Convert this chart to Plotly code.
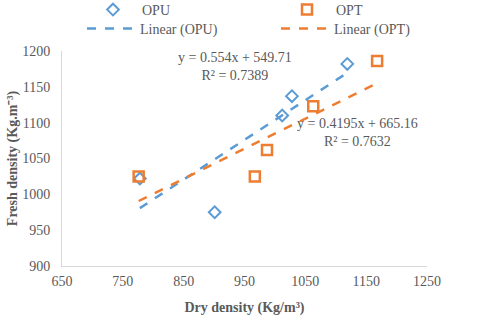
import plotly.graph_objects as go

# OPU series
opu_dry = [778, 901, 1012, 1028, 1119]
opu_fresh = [1022, 975, 1110, 1137, 1182]
# OPT series
opt_dry = [776, 967, 987, 1063, 1168]
opt_fresh = [1025, 1025, 1062, 1123, 1186]

# trendline coefficients shown on the chart
opu_slope, opu_icpt, opu_r2 = 0.554, 549.71, 0.7389
opt_slope, opt_icpt, opt_r2 = 0.4195, 665.16, 0.7632

BLUE = "#5B9BD5"
ORANGE = "#ED7D31"
FONT = "Liberation Serif"
TXT = "#595959"


def trend(xs, m, c):
    xr = [min(xs), max(xs)]
    return xr, [m * x + c for x in xr]


fig = go.Figure()
fig.add_trace(go.Scatter(
    x=opu_dry, y=opu_fresh, mode="markers", name="OPU", legend="legend",
    marker=dict(symbol="diamond-open", size=9, color=BLUE, line=dict(width=2, color=BLUE))))
fig.add_trace(go.Scatter(
    x=opt_dry, y=opt_fresh, mode="markers", name="OPT", legend="legend2",
    marker=dict(symbol="square-open", size=10, color=ORANGE, line=dict(width=2.5, color=ORANGE))))

tx, ty = trend(opu_dry, opu_slope, opu_icpt)
fig.add_trace(go.Scatter(x=tx, y=ty, mode="lines", name="Linear (OPU)", legend="legend3",
                         line=dict(color=BLUE, width=2.5, dash="dash")))
tx, ty = trend(opt_dry, opt_slope, opt_icpt)
fig.add_trace(go.Scatter(x=tx, y=ty, mode="lines", name="Linear (OPT)", legend="legend4",
                         line=dict(color=ORANGE, width=2.5, dash="dash")))

ann = dict(xref="paper", yref="paper", showarrow=False, align="center", xanchor="center", yanchor="middle",
           font=dict(family=FONT, size=14, color=TXT))
fig.add_annotation(x=(235 - 62) / 365, y=1 - (66 - 51) / 215, text=f"y = {opu_slope}x + {opu_icpt}<br>R² = {opu_r2}", **ann)
fig.add_annotation(x=(357 - 62) / 365, y=1 - (132 - 51) / 215, text=f"y = {opt_slope}x + {opt_icpt}<br>R² = {opt_r2}", **ann)


def leg(px, py):
    return dict(orientation="h", xref="container", yref="container", xanchor="left", yanchor="middle",
                x=px / 480, y=1 - py / 321, bgcolor="rgba(0,0,0,0)", borderwidth=0,
                font=dict(family=FONT, size=14, color=TXT), itemwidth=48)


fig.update_layout(
    width=480, height=321,
    margin=dict(l=62, r=53, t=51, b=55, autoexpand=False),
    paper_bgcolor="white", plot_bgcolor="white",
    font=dict(family=FONT, size=14, color=TXT),
    showlegend=True,
    legend=leg(84, 10), legend2=leg(278, 10),
    legend3=leg(82, 29), legend4=leg(276, 29),
    xaxis=dict(range=[650, 1250], dtick=100, tick0=650, showgrid=False, zeroline=False,
               showline=True, linecolor="#D9D9D9", linewidth=1, ticks="", ticklabelstandoff=2,
               title=dict(text="<b>Dry density (Kg/m³)</b>", font=dict(family=FONT, size=14, color=TXT), standoff=14)),
    yaxis=dict(range=[900, 1200], dtick=50, showgrid=False, zeroline=False,
               showline=True, linecolor="#D9D9D9", linewidth=1, ticks="", ticklabelstandoff=8,
               title=dict(text="<b>Fresh density (Kg.m⁻³)</b>", font=dict(family=FONT, size=14, color=TXT), standoff=1)),
)
fig.write_html("out.html", config={"displayModeBar": False},
               post_script="document.body.style.margin = '0';")
